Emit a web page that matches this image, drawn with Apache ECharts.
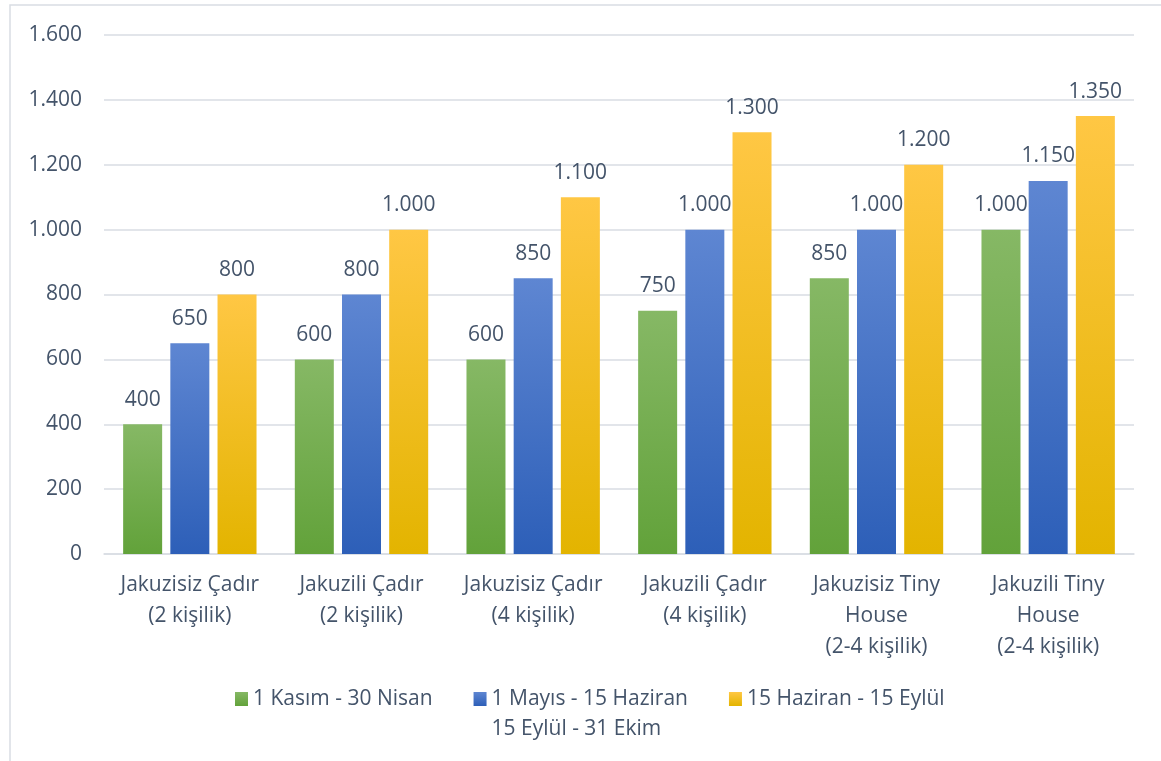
<!DOCTYPE html>
<html>
<head>
<meta charset="utf-8">
<script src="https://cdn.jsdelivr.net/npm/echarts@6/dist/echarts.min.js"></script>
<style>
  html, body { margin: 0; padding: 0; background: #fff; }
  #chart { width: 1161px; height: 761px; }
</style>
</head>
<body>
<div id="chart"></div>
<script>
const categories = [
  'Jakuzisiz Çadır\n(2 kişilik)',
  'Jakuzili Çadır\n(2 kişilik)',
  'Jakuzisiz Çadır\n(4 kişilik)',
  'Jakuzili Çadır\n(4 kişilik)',
  'Jakuzisiz Tiny\nHouse\n(2-4 kişilik)',
  'Jakuzili Tiny\nHouse\n(2-4 kişilik)'
]
const seriesNames = ['1 Kasım - 30 Nisan', '1 Mayıs - 15 Haziran\n15 Eylül - 31 Ekim', '15 Haziran - 15 Eylül']
const kasimNisan = [400, 600, 600, 750, 850, 1000]
const mayisHaziran = [650, 800, 850, 1000, 1000, 1150]
const haziranEylul = [800, 1000, 1100, 1300, 1200, 1350]

const textColor = '#44546a'
const font = '"Open Sans", sans-serif'
const fontSize = 21

function gradient(top, bottom) {
  return new echarts.graphic.LinearGradient(0, 0, 0, 1, [
    { offset: 0, color: top },
    { offset: 1, color: bottom }
  ])
}

function fmt(v) {
  return String(v).replace(/\B(?=(\d{3})+(?!\d))/g, '.')
}

const colors = [
  gradient('#86b865', '#62a23a'),
  gradient('#5e86d2', '#2d5fb8'),
  gradient('#ffc744', '#e3b400')
]

const chart = echarts.init(document.getElementById('chart'))

function makeSeries(name, data, color) {
  return {
    name: name,
    type: 'bar',
    data: data,
    barWidth: 39,
    barGap: '21%',
    itemStyle: { color: color },
    label: {
      show: true,
      position: 'top',
      distance: 14,
      color: textColor,
      fontFamily: font,
      fontSize: fontSize,
      formatter: (p) => fmt(p.value)
    }
  }
}

chart.setOption({
  animation: false,
  textStyle: { fontFamily: font },
  graphic: [
    {
      type: 'rect',
      shape: { x: 10, y: 5, width: 1200, height: 800 },
      style: { fill: 'none', stroke: '#d9dde3', lineWidth: 1.5 }
    }
  ],
  grid: {
    left: 104,
    right: 27,
    top: 35,
    bottom: 207,
    outerBoundsMode: 'none'
  },
  legend: {
    top: 649,
    left: 230,
    itemWidth: 13,
    itemHeight: 14,
    itemGap: 41,
    icon: 'rect',
    textStyle: {
      color: textColor,
      fontFamily: font,
      fontSize: fontSize,
      lineHeight: 30
    },
    // blank lines keep the first line level with the icon
    formatter: (name) => (name.indexOf('\n') >= 0 ? '\n' + name : '\n' + name + '\n')
  },
  xAxis: {
    type: 'category',
    data: categories,
    axisTick: { show: false },
    axisLine: { lineStyle: { color: '#d9dde3', width: 1.5 } },
    axisLabel: {
      color: textColor,
      fontFamily: font,
      fontSize: fontSize,
      lineHeight: 31,
      margin: 16,
      interval: 0
    }
  },
  yAxis: {
    type: 'value',
    min: 0,
    max: 1600,
    interval: 200,
    axisLine: { show: false },
    axisTick: { show: false },
    axisLabel: {
      color: textColor,
      fontFamily: font,
      fontSize: fontSize,
      margin: 22,
      formatter: (v) => fmt(v)
    },
    splitLine: { lineStyle: { color: '#d9dde3', width: 1.5 } }
  },
  series: [
    makeSeries(seriesNames[0], kasimNisan, colors[0]),
    makeSeries(seriesNames[1], mayisHaziran, colors[1]),
    makeSeries(seriesNames[2], haziranEylul, colors[2])
  ]
})
</script>
</body>
</html>
